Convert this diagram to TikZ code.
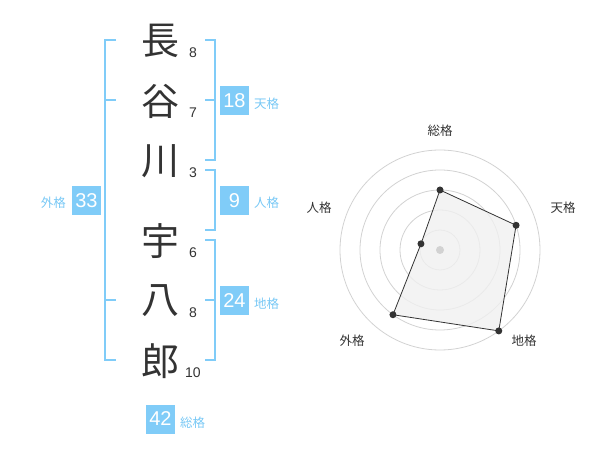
\documentclass[tikz,border=0pt]{standalone}
\usepackage{fontspec}
\usetikzlibrary{calc}
\setmainfont{Liberation Sans}
\newfontfamily\cjk{Noto Sans CJK JP}
\definecolor{kblue}{RGB}{128,204,248}
\definecolor{ltext}{RGB}{120,200,245}
\definecolor{dark}{RGB}{51,51,51}
\definecolor{ring}{RGB}{210,210,210}
\definecolor{polyfill}{RGB}{240,240,240}
\tikzset{
  kanji/.style={font=\cjk\fontsize{38}{38}\selectfont, text=dark, inner sep=0pt},
  strokes/.style={font=\fontsize{14}{14}\selectfont, text=dark, inner sep=0pt},
  valbox/.style={fill=kblue, text=white, font=\fontsize{20}{20}\selectfont, minimum width=29pt, minimum height=29pt, inner sep=0pt},
  kaku/.style={font=\cjk\fontsize{12.5}{12.5}\selectfont, text=ltext, inner sep=0pt},
  bracket/.style={draw=kblue, line width=2pt},
  rlabel/.style={font=\cjk\fontsize{12.5}{12.5}\selectfont, text=dark, inner sep=0pt},
  ringc/.style={draw=ring, line width=0.8pt},
  dot/.style={circle, fill=dark, inner sep=0pt, minimum size=7pt},
}
\begin{document}
\begin{tikzpicture}[x=1pt,y=-1pt]
\useasboundingbox (0,0) rectangle (600,470);
% names
\node[kanji] (k1) at (160,41) {長};
\node[kanji] (k2) at (160,101) {谷};
\node[kanji] (k3) at (160,161) {川};
\node[kanji] (k4) at (160,241) {宇};
\node[kanji] (k5) at (160,301) {八};
\node[kanji] (k6) at (160,361) {郎};
\node[strokes] (s1) at (193,53) {8};
\node[strokes] (s2) at (193,113) {7};
\node[strokes] (s3) at (193,173) {3};
\node[strokes] (s4) at (193,253) {6};
\node[strokes] (s5) at (193,313) {8};
\node[strokes] (s6) at (193,373) {10};
% brackets
\draw[bracket] (116,40) -- (105,40) -- (105,360) -- (116,360);
\draw[bracket] (105,100) -- (116,100);
\draw[bracket] (105,300) -- (116,300);
\draw[bracket] (205,40) -- (215,40) -- (215,160) -- (205,160);
\draw[bracket] (205,100) -- (215,100);
\draw[bracket] (205,170) -- (215,170) -- (215,230) -- (205,230);
\draw[bracket] (205,240) -- (215,240) -- (215,360) -- (205,360);
\draw[bracket] (205,300) -- (215,300);
% value boxes
\node[valbox] (b18) at (234.5,100.5) {18};
\node[kaku, anchor=west] (l18) at (254,104) {天格};
\node[valbox] (b9) at (234.5,200.5) {9};
\node[kaku, anchor=west] (l9) at (254,203) {人格};
\node[valbox] (b24) at (234.5,300.5) {24};
\node[kaku, anchor=west] (l24) at (254,304) {地格};
\node[valbox] (b33) at (86.5,200.5) {33};
\node[kaku, anchor=east] (l33) at (66,203) {外格};
\node[valbox] (b42) at (160.5,419) {42};
\node[kaku, anchor=west] (l42) at (180,422.5) {総格};
% radar
\coordinate (c) at (440,250);
\foreach \r in {20,40,60,80,100} \draw[ringc] (c) circle (\r);
\coordinate (p1) at ($(c)+(0,-60)$);
\coordinate (p2) at ($(c)+({80*cos(18)},{-80*sin(18)})$);
\coordinate (p3) at ($(c)+({100*cos(-54)},{-100*sin(-54)})$);
\coordinate (p4) at ($(c)+({80*cos(234)},{-80*sin(234)})$);
\coordinate (p5) at ($(c)+({20*cos(162)},{-20*sin(162)})$);
\draw[dark, fill=polyfill, fill opacity=0.8, line width=0.8pt] (p1) -- (p2) -- (p3) -- (p4) -- (p5) -- cycle;
\node[circle, fill=ring, inner sep=0pt, minimum size=8pt] (cd) at (c) {};
\foreach \p in {p1,p2,p3,p4,p5} \node[dot] at (\p) {};
\node[rlabel] (r1) at (440,131) {総格};
\node[rlabel] (r2) at (563,208) {天格};
\node[rlabel] (r3) at (524,341) {地格};
\node[rlabel] (r4) at (352,341) {外格};
\node[rlabel] (r5) at (319,208) {人格};
\end{tikzpicture}
\end{document}
